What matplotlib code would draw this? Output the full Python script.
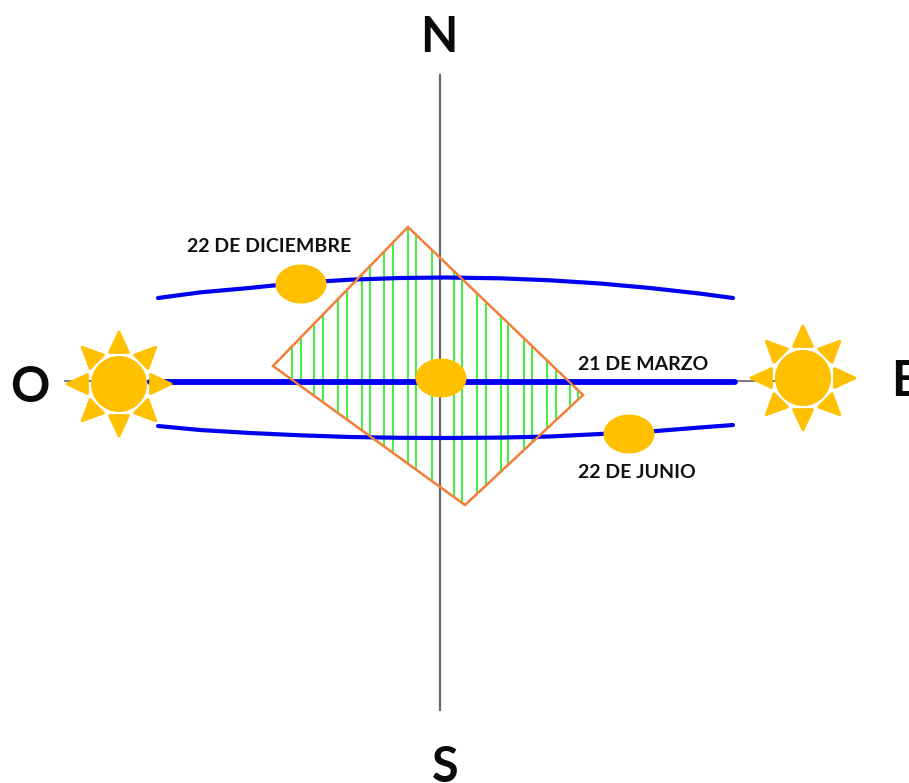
import numpy as np
import matplotlib
matplotlib.use("Agg")
import matplotlib.pyplot as plt
from matplotlib.patches import Polygon, Ellipse, Circle

plt.rcParams['font.family'] = ['Lato', 'DejaVu Sans']

# path of the sun on each date
dec_x = [158, 200, 250, 300, 350, 400, 445, 500, 550, 600, 650, 700, 733]
dec_y = [298, 292.4, 287.9, 282.8, 279.7, 278, 277.5, 278.3, 280.3, 283.5, 288, 293.6, 298]
jun_x = [158, 200, 250, 300, 350, 400, 445, 500, 550, 600, 650, 700, 733]
jun_y = [426, 430, 433, 435.3, 437, 437.8, 438, 437.6, 436.5, 434, 431.5, 427.5, 425]
mar_x = [150, 735]
mar_y = [382, 382]

# collector plate
plate_x = [408, 273, 465, 583]
plate_y = [227, 366, 505, 395]
hatch_x = [292, 301, 314, 323, 338, 347, 362, 370, 384, 393, 408, 416, 432, 440,
           454, 462, 477, 486, 501, 508, 524, 532, 547, 556, 570, 578]

# small suns on the paths
disc_x = [301, 441, 629]
disc_y = [284, 378, 434]

# big suns west and east
sun_x = [119, 803]
sun_y = [384, 378]

labels = ['22 DE DICIEMBRE', '21 DE MARZO', '22 DE JUNIO']
label_x = [187, 578, 578]
label_y = [246, 364, 473]

compass = ['N', 'S', 'O', 'E']
compass_x = [439, 445, 30, 891]
compass_y = [37, 767, 388, 382]

BLUE = '#0000F0'
YELLOW = '#FFC000'
ORANGE = '#F4803A'
GREEN = '#33EE33'
GREY = '#666666'

fig = plt.figure(figsize=(9.09, 7.83), dpi=100)
ax = fig.add_axes([0, 0, 1, 1])
ax.set_xlim(0, 909)
ax.set_ylim(783, 0)
ax.axis('off')

# plate hatch, clipped to the outline
outline = Polygon(np.column_stack([plate_x, plate_y]), closed=True, facecolor='white',
                  edgecolor=ORANGE, lw=1.6, zorder=2, joinstyle='miter')
ax.add_patch(outline)
hatch = ax.vlines(hatch_x, 200, 520, color=GREEN, lw=1.3, zorder=3)
hatch.set_clip_path(outline)
edge = Polygon(np.column_stack([plate_x, plate_y]), closed=True, fill=False,
               edgecolor=ORANGE, lw=1.6, zorder=6, joinstyle='miter')
ax.add_patch(edge)

# compass lines
ax.plot([440, 440], [75, 710], color=GREY, lw=1.6, zorder=4)
ax.plot([65, 775], [381, 381], color=GREY, lw=1.2, zorder=1)

# sun paths
ax.plot(dec_x, dec_y, color=BLUE, lw=3, zorder=5, solid_capstyle='round', solid_joinstyle='round')
ax.plot(jun_x, jun_y, color=BLUE, lw=3, zorder=5, solid_capstyle='round', solid_joinstyle='round')
ax.plot(mar_x, mar_y, color=BLUE, lw=4.2, zorder=5, solid_capstyle='round')

for x, y in zip(disc_x, disc_y):
    ax.add_patch(Ellipse((x, y), 51, 39, facecolor=YELLOW, edgecolor='none', zorder=7))

# big suns: disc plus eight rays
for x, y in zip(sun_x, sun_y):
    ax.add_patch(Circle((x, y), 28, facecolor=YELLOW, edgecolor='none', zorder=7))
    for a in np.arange(8) * np.pi / 4:
        d = np.array([np.cos(a), np.sin(a)])
        n = np.array([-d[1], d[0]])
        c = np.array([x, y])
        ray = [c + 52 * d, c + 31.5 * d + 9.5 * n, c + 31.5 * d - 9.5 * n]
        ax.add_patch(Polygon(ray, closed=True, facecolor=YELLOW, edgecolor=YELLOW,
                             lw=2, joinstyle='round', zorder=7))

for t, x, y in zip(labels, label_x, label_y):
    ax.text(x, y, t, fontsize=14, fontweight='bold', color='#111111',
            ha='left', va='center', zorder=8)

for t, x, y in zip(compass, compass_x, compass_y):
    ha = 'left' if t == 'E' else 'center'
    ax.text(x, y, t, fontsize=35, fontweight='bold', color='#0a0a0a',
            ha=ha, va='center', zorder=8)

fig.savefig('out.png', dpi=100, facecolor='white')
